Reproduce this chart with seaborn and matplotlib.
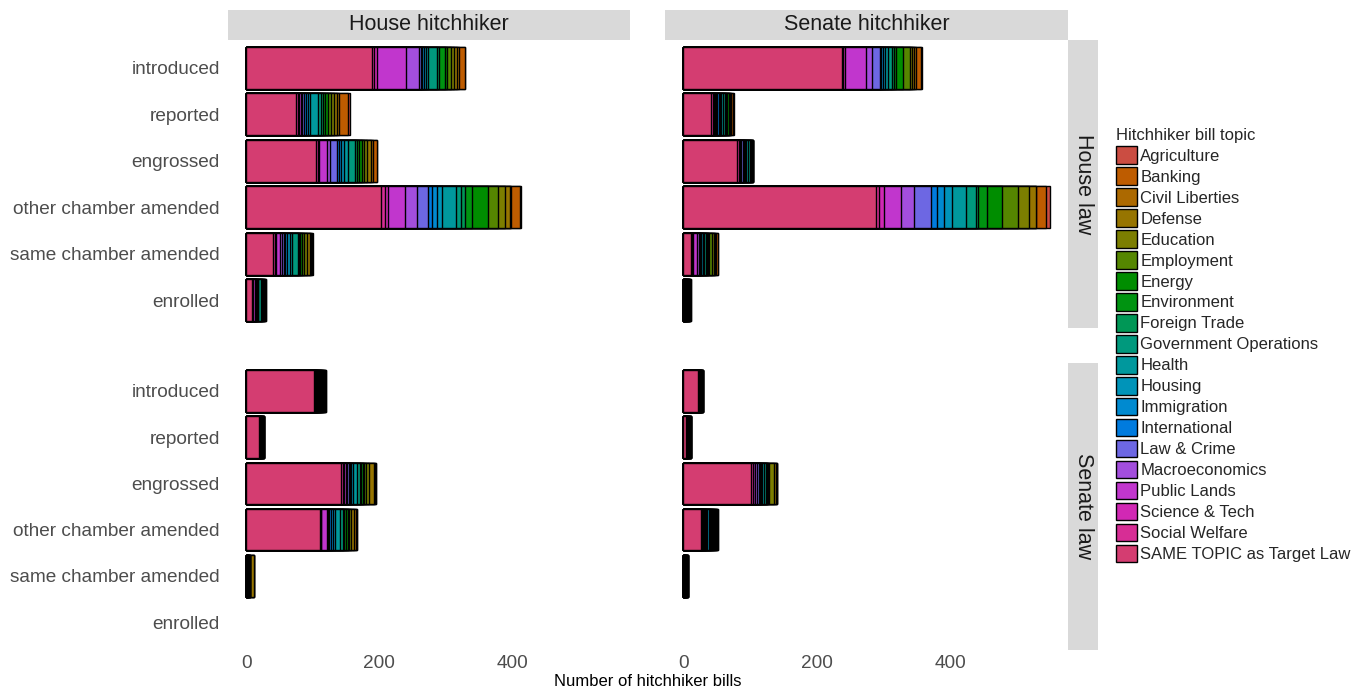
import numpy as np
import pandas as pd
import matplotlib
matplotlib.use("Agg")
import matplotlib.pyplot as plt
from matplotlib.patches import Patch
import seaborn as sns

# ---------------------------------------------------------------- data
TOPICS = [
    "Agriculture", "Banking", "Civil Liberties", "Defense", "Education",
    "Employment", "Energy", "Environment", "Foreign Trade",
    "Government Operations", "Health", "Housing", "Immigration",
    "International", "Law & Crime", "Macroeconomics", "Public Lands",
    "Science & Tech", "Social Welfare", "SAME TOPIC as Target Law",
]
# bars are stacked left to right in reverse legend order
STACK_ORDER = TOPICS[::-1]

STAGES = ["introduced", "reported", "engrossed", "other chamber amended",
          "same chamber amended", "enrolled"]

HITCHHIKER_CHAMBERS = ["House hitchhiker", "Senate hitchhiker"]
LAW_CHAMBERS = ["House law", "Senate law"]

# counts per stage, columns follow STACK_ORDER
house_law_house_hh = [
    [189, 3, 4, 44, 19, 3, 2, 3, 3, 3, 13, 3, 9, 4, 5, 5, 5, 3, 8, 1],
    [74, 3, 2, 3, 2, 3, 2, 3, 3, 13, 4, 3, 4, 4, 4, 5, 4, 3, 14, 3],
    [105, 3, 2, 12, 4, 10, 3, 4, 4, 6, 11, 3, 3, 4, 3, 4, 6, 3, 6, 1],
    [202, 6, 5, 25, 18, 17, 6, 7, 8, 21, 8, 5, 11, 24, 15, 10, 8, 2, 13, 1],
    [40, 3, 2, 6, 2, 3, 2, 3, 4, 4, 8, 2, 2, 2, 4, 4, 4, 2, 2, 1],
    [8, 1, 1, 3, 1, 1, 0, 1, 1, 1, 4, 1, 1, 1, 1, 1, 1, 0, 1, 0],
]
house_law_senate_hh = [
    [238, 2, 3, 31, 8, 12, 2, 3, 3, 5, 5, 3, 4, 10, 10, 3, 4, 3, 7, 2],
    [42, 2, 2, 2, 1, 2, 2, 2, 2, 2, 3, 2, 1, 3, 1, 1, 1, 1, 3, 1],
    [81, 2, 1, 1, 2, 3, 1, 2, 1, 3, 3, 1, 1, 1, 1, 1, 0, 0, 0, 0],
    [288, 5, 7, 26, 20, 25, 9, 11, 11, 21, 16, 2, 14, 22, 25, 16, 10, 1, 14, 6],
    [11, 2, 2, 6, 2, 2, 1, 1, 2, 2, 3, 1, 2, 2, 4, 3, 2, 1, 3, 0],
    [0, 1, 1, 1, 0, 1, 0, 1, 1, 1, 1, 0, 1, 0, 1, 0, 0, 0, 2, 0],
]
senate_law_house_hh = [
    [102, 1, 1, 1, 1, 1, 1, 1, 1, 1, 1, 1, 1, 1, 1, 1, 1, 1, 1, 0],
    [19, 1, 0, 1, 0, 1, 0, 1, 0, 1, 1, 0, 1, 0, 0, 0, 0, 0, 0, 0],
    [142, 3, 2, 3, 2, 2, 2, 2, 3, 5, 5, 2, 2, 2, 3, 4, 8, 2, 1, 0],
    [111, 1, 1, 8, 2, 2, 2, 3, 3, 8, 4, 2, 3, 3, 2, 3, 4, 3, 2, 0],
    [0, 1, 0, 1, 0, 1, 0, 0, 0, 1, 1, 0, 0, 0, 0, 1, 5, 0, 0, 0],
    [0] * 20,
]
senate_law_senate_hh = [
    [22, 1, 1, 1, 0, 1, 0, 0, 0, 1, 1, 0, 0, 1, 0, 0, 0, 0, 0, 0],
    [4, 1, 0, 1, 0, 1, 0, 1, 0, 1, 1, 0, 1, 0, 0, 0, 0, 0, 0, 0],
    [102, 2, 1, 3, 2, 4, 1, 1, 2, 3, 3, 1, 1, 1, 2, 7, 3, 1, 1, 0],
    [26, 1, 1, 2, 1, 2, 1, 2, 2, 2, 2, 1, 1, 2, 2, 1, 1, 1, 1, 0],
    [0, 1, 1, 1, 0, 1, 0, 0, 0, 1, 1, 0, 0, 1, 0, 0, 0, 0, 0, 0],
    [0] * 20,
]

PANELS = {
    ("House law", "House hitchhiker"): house_law_house_hh,
    ("House law", "Senate hitchhiker"): house_law_senate_hh,
    ("Senate law", "House hitchhiker"): senate_law_house_hh,
    ("Senate law", "Senate hitchhiker"): senate_law_senate_hh,
}


# ---------------------------------------------------------------- colours
def hcl_to_hex(h, c, l):
    """Polar LUV (HCL) to sRGB hex, clipping out-of-gamut values."""
    un, vn = 0.1978398, 0.4683363
    hr = np.deg2rad(h)
    u, v = c * np.cos(hr), c * np.sin(hr)
    y = ((l + 16) / 116) ** 3 if l > 8 else l / 903.3
    up = u / (13 * l) + un
    vp = v / (13 * l) + vn
    x = 9 * y * up / (4 * vp)
    z = y * (12 - 3 * up - 20 * vp) / (4 * vp)
    m = np.array([[3.2404542, -1.5371385, -0.4985314],
                  [-0.9692660, 1.8760108, 0.0415560],
                  [0.0556434, -0.2040259, 1.0572252]])
    rgb = m @ np.array([x, y, z])
    rgb = np.where(rgb <= 0.0031308, 12.92 * rgb,
                   1.055 * np.clip(rgb, 0, None) ** (1 / 2.4) - 0.055)
    rgb = np.clip(rgb, 0, 1)
    return "#%02x%02x%02x" % tuple(int(round(v_ * 255)) for v_ in rgb)


n_topics = len(TOPICS)
hues = np.linspace(15, 375, n_topics + 1)[:-1]
PALETTE = {t: hcl_to_hex(hh, 100, 50) for t, hh in zip(TOPICS, hues)}

# ---------------------------------------------------------------- figure
sns.set_theme(style="white")
plt.rcParams["font.family"] = ["Liberation Sans", "DejaVu Sans"]

W, H = 1366, 692
fig = plt.figure(figsize=(W / 100, H / 100), dpi=100)


def box(x0, y0, x1, y1):
    return [x0 / W, 1 - y1 / H, (x1 - x0) / W, (y1 - y0) / H]


col_x = {"House hitchhiker": (228, 630), "Senate hitchhiker": (665, 1068)}
row_y = {"House law": (40, 328), "Senate law": (363, 650)}

STRIP_BG = "#D9D9D9"
TICK_TXT = "#4D4D4D"

for (law, hh), counts in PANELS.items():
    x0, x1 = col_x[hh]
    y0, y1 = row_y[law]
    ax = fig.add_axes(box(x0, y0, x1, y1))
    arr = np.array(counts, dtype=float)
    cum = np.cumsum(arr, axis=1)
    # draw the longest cumulative layer first so each boundary shows
    for k in range(len(STACK_ORDER) - 1, -1, -1):
        frame = pd.DataFrame({"stage": STAGES, "value": cum[:, k]})
        sns.barplot(data=frame, x="value", y="stage", order=STAGES,
                    orient="h", color=PALETTE[STACK_ORDER[k]], saturation=1,
                    edgecolor="black", linewidth=1.0, width=0.9,
                    errorbar=None, ax=ax)
    for p in ax.patches:
        if p.get_width() <= 0:
            p.set_visible(False)
    ax.set_xlim(-27.45, 576.45)
    ax.set_ylim(len(STAGES) - 0.4, -0.6)
    ax.set_xlabel("")
    ax.set_ylabel("")
    for s in ax.spines.values():
        s.set_visible(False)
    ax.set_xticks([0, 200, 400])
    ax.tick_params(axis="y", length=4, width=0.8, color="#333333",
                   labelsize=13.7, labelcolor=TICK_TXT, pad=2)
    ax.tick_params(axis="x", length=3, width=0.8, color="#333333",
                   labelsize=13.7, labelcolor=TICK_TXT, pad=0.5)
    if hh != "House hitchhiker":
        ax.tick_params(axis="y", labelleft=False, length=0)
    if law != "Senate law":
        ax.tick_params(axis="x", labelbottom=False, length=0)

# column strips
for hh, (x0, x1) in col_x.items():
    sax = fig.add_axes(box(x0, 10, x1, 40))
    sax.set_facecolor(STRIP_BG)
    sax.set_xticks([])
    sax.set_yticks([])
    for s in sax.spines.values():
        s.set_visible(False)
    sax.text(0.5, 0.5, hh, ha="center", va="center", fontsize=15.5,
             color="#1A1A1A", transform=sax.transAxes)

# row strips
for law, (y0, y1) in row_y.items():
    sax = fig.add_axes(box(1068, y0, 1098, y1))
    sax.set_facecolor(STRIP_BG)
    sax.set_xticks([])
    sax.set_yticks([])
    for s in sax.spines.values():
        s.set_visible(False)
    sax.text(0.5, 0.5, law, ha="center", va="center", fontsize=15.5,
             rotation=-90, color="#1A1A1A", transform=sax.transAxes)

fig.text(648 / W, 1 - 682 / H, "Number of hitchhiker bills", ha="center",
         va="center", fontsize=12, color="black")

handles = [Patch(facecolor=PALETTE[t], edgecolor="black", linewidth=1.0)
           for t in TOPICS]
leg = fig.legend(handles, TOPICS, title="Hitchhiker bill topic",
                 loc="upper left", bbox_to_anchor=(1116 / W, 1 - 128 / H),
                 frameon=False, fontsize=12, title_fontsize=12,
                 handlelength=1.25, handleheight=1.25, handletextpad=0.2,
                 labelspacing=0.2, borderaxespad=0, borderpad=0)
leg._legend_box.align = "left"

fig.savefig("out.png", dpi=100)
